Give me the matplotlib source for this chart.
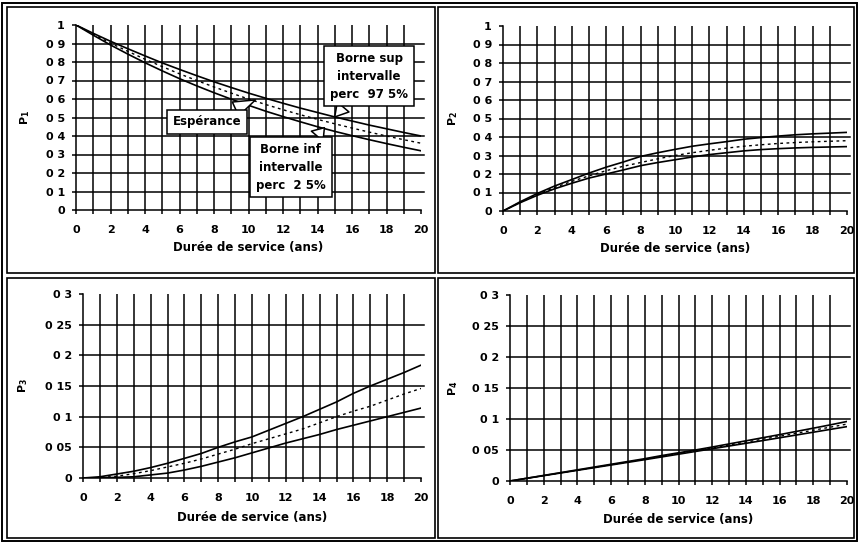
import matplotlib
matplotlib.use("Agg")
import matplotlib.pyplot as plt
from matplotlib.patches import Rectangle

plt.rcParams['font.family'] = ['DejaVu Sans']
plt.rcParams['font.weight'] = 'bold'
plt.rcParams['mathtext.fontset'] = 'custom'
plt.rcParams['mathtext.bf'] = 'DejaVu Sans:bold'

years = list(range(21))

# P1
p1_sup = [1, .955, .912, .872, .833, .795, .760, .726, .693, .662, .632,
          .604, .577, .551, .527, .503, .481, .459, .439, .419, .400]
p1_esp = [1, .950, .902, .858, .815, .775, .736, .700, .665, .632, .600,
          .570, .542, .515, .490, .466, .443, .421, .400, .380, .361]
p1_inf = [1, .945, .892, .843, .796, .752, .710, .671, .634, .599, .566,
          .534, .505, .477, .450, .425, .402, .380, .359, .339, .320]

# P2
p2_sup = [0, .050, .095, .135, .170, .205, .237, .265, .295, .315, .333,
          .350, .363, .375, .388, .397, .405, .412, .417, .421, .425]
p2_esp = [0, .047, .090, .127, .160, .190, .218, .242, .262, .282, .300,
          .315, .328, .340, .350, .358, .365, .370, .374, .377, .380]
p2_inf = [0, .045, .085, .120, .150, .178, .200, .222, .245, .262, .277,
          .292, .305, .315, .325, .332, .337, .341, .344, .346, .348]

# P3
p3_sup = [0, .002, .0065, .011, .017, .024, .032, .040, .050, .059, .067,
          .078, .089, .100, .112, .124, .138, .150, .161, .172, .184]
p3_esp = [0, .0005, .003, .007, .012, .018, .024, .031, .039, .047, .056,
          .064, .072, .080, .090, .100, .109, .117, .127, .137, .146]
p3_inf = [0, .0003, .001, .002, .005, .008, .013, .019, .026, .033, .041,
          .049, .057, .064, .071, .079, .086, .093, .100, .107, .114]

# P4
p4_sup = [0, .0045, .009, .0135, .018, .0225, .027, .0315, .036, .041, .0455,
          .050, .0548, .0598, .0648, .0698, .0748, .0800, .0852, .0905, .0960]
p4_esp = [0, .0044, .0088, .0132, .0176, .022, .0264, .0308, .0352, .0399, .0443,
          .0488, .0534, .058, .0627, .0674, .0722, .077, .0819, .0868, .0918]
p4_inf = [0, .0043, .0086, .0129, .0172, .0215, .0258, .0301, .0344, .0388, .0432,
          .0476, .052, .0564, .0608, .0652, .0697, .0742, .0787, .0832, .0877]

xticks = list(range(0, 21, 2))
yt_big = [0, .1, .2, .3, .4, .5, .6, .7, .8, .9, 1]
yl_big = ['0', '0 1', '0 2', '0 3', '0 4', '0 5', '0 6', '0 7', '0 8', '0 9', '1']
yt_small = [0, .05, .1, .15, .2, .25, .3]
yl_small = ['0', '0 05', '0 1', '0 15', '0 2', '0 25', '0 3']

W, H = 859, 543
fig = plt.figure(figsize=(W / 100, H / 100), dpi=100)
fig.patch.set_facecolor('white')


def px_rect(x0, y0, x1, y1):
    return [x0 / W, 1 - y1 / H, (x1 - x0) / W, (y1 - y0) / H]


# frames
fig.add_artist(Rectangle((2 / W, 1 - 541 / H), 855 / W, 538 / H,
                         transform=fig.transFigure, fill=False, ec='black', lw=1.4))
for (x0, y0, x1, y1) in [(7, 7, 435, 273), (438, 7, 854, 273),
                         (7, 278, 435, 538), (438, 278, 854, 538)]:
    fig.add_artist(Rectangle((x0 / W, 1 - y1 / H), (x1 - x0) / W, (y1 - y0) / H,
                             transform=fig.transFigure, fill=False, ec='black', lw=1.2))

panels = [
    (px_rect(76, 25, 421, 210), p1_sup, p1_esp, p1_inf, yt_big, yl_big, r'$\mathbf{P_1}$', -0.148, -0.205),
    (px_rect(503, 26, 847, 211), p2_sup, p2_esp, p2_inf, yt_big, yl_big, r'$\mathbf{P_2}$', -0.145, -0.205),
    (px_rect(83, 294, 421, 478), p3_sup, p3_esp, p3_inf, yt_small, yl_small, r'$\mathbf{P_3}$', -0.178, -0.217),
    (px_rect(510, 295, 847, 481), p4_sup, p4_esp, p4_inf, yt_small, yl_small, r'$\mathbf{P_4}$', -0.169, -0.205),
]

axes = []
for pos, sup, esp, inf, yt, yl, lab, ylx, xly in panels:
    ax = fig.add_axes(pos)
    ax.set_xlim(0, 20)
    ax.set_ylim(yt[0], yt[-1])
    for s in ['top', 'right']:
        ax.spines[s].set_visible(False)
    for s in ['left', 'bottom']:
        ax.spines[s].set_linewidth(1.1)
    for t in years[1:-1]:
        ax.axvline(t, color='black', lw=1.1, zorder=1)
    for v in yt[1:-1]:
        ax.axhline(v, xmax=1.01, color='black', lw=1.1, zorder=1, clip_on=False)
    ax.plot(years, sup, color='black', lw=1.2, zorder=3)
    ax.plot(years, inf, color='black', lw=1.2, zorder=3)
    ax.plot(years, esp, color='black', lw=1.0, linestyle=(0, (2, 2.5)), zorder=3)
    ax.set_xticks(xticks)
    ax.set_xticks(years, minor=True)
    ax.set_yticks(yt)
    ax.set_yticklabels(yl)
    ax.tick_params(axis='both', which='both', direction='out', length=3, width=1.1,
                   labelsize=8, colors='black')
    ax.tick_params(axis='x', pad=8)
    ax.tick_params(axis='y', pad=5)
    ax.set_ylabel(lab, fontsize=8)
    ax.yaxis.label.set_va('center')
    ax.yaxis.set_label_coords(ylx, 0.5)
    ax.set_xlabel('Durée de service (ans)', fontsize=8.5, fontweight='bold')
    ax.xaxis.label.set_va('center')
    ax.xaxis.set_label_coords(0.5, xly)
    axes.append(ax)

ax1 = axes[0]
box = dict(boxstyle='square,pad=0.5', fc='white', ec='black', lw=1.1)
arr = dict(arrowstyle='wedge,tail_width=1.3', fc='white', ec='black', lw=1.1,
           shrinkA=0, shrinkB=0)
ax1.annotate('Espérance', xy=(10.4, 0.595), xytext=(7.6, 0.476),
             ha='center', va='center', fontsize=8.5, fontweight='bold',
             bbox=box, arrowprops=arr, zorder=5)
ax1.annotate('Borne sup\nintervalle\nperc  97 5%', xy=(15.0, 0.503), xytext=(17.0, 0.724),
             ha='center', va='center', fontsize=8.5, fontweight='bold', linespacing=1.5,
             bbox=box, arrowprops=arr, zorder=5)
ax1.annotate('Borne inf\nintervalle\nperc  2 5%', xy=(14.4, 0.445), xytext=(12.46, 0.232),
             ha='center', va='center', fontsize=8.5, fontweight='bold', linespacing=1.5,
             bbox=box, arrowprops=arr, zorder=5)

fig.savefig('out.png', dpi=100, facecolor='white')
